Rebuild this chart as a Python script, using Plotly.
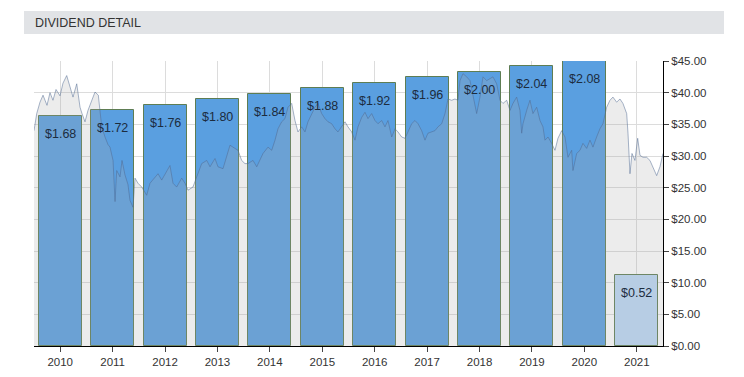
import plotly.graph_objects as go

# ---- data ----
years = [2010, 2011, 2012, 2013, 2014, 2015, 2016, 2017, 2018, 2019, 2020, 2021]
dividends = [1.68, 1.72, 1.76, 1.80, 1.84, 1.88, 1.92, 1.96, 2.00, 2.04, 2.08, 0.52]
year_labels = [str(y) for y in years]
partial_year = [False] * 11 + [True]

price_t = [
    2009.500, 2009.552, 2009.614, 2009.672, 2009.748, 2009.805, 2009.862, 2009.920, 2009.996,
    2010.053, 2010.124, 2010.149, 2010.187, 2010.244, 2010.315, 2010.378, 2010.416, 2010.473,
    2010.530, 2010.601, 2010.664, 2010.727, 2010.759, 2010.792, 2010.855, 2010.912, 2010.950,
    2011.008, 2011.046, 2011.078, 2011.141, 2011.179, 2011.236, 2011.293, 2011.331, 2011.389,
    2011.427, 2011.484, 2011.555, 2011.650, 2011.713, 2011.808, 2011.866, 2011.936,
    2012.031, 2012.094, 2012.152, 2012.222, 2012.318, 2012.381, 2012.438, 2012.533, 2012.604,
    2012.699, 2012.795, 2012.858, 2012.953,
    2013.010, 2013.106, 2013.176, 2013.239, 2013.334, 2013.392, 2013.462, 2013.525, 2013.582,
    2013.678, 2013.749, 2013.812, 2013.869, 2013.964,
    2014.035, 2014.098, 2014.155, 2014.225, 2014.288, 2014.346, 2014.416, 2014.479, 2014.536,
    2014.607, 2014.670, 2014.727, 2014.798, 2014.861, 2014.918, 2014.988,
    2015.051, 2015.109, 2015.179, 2015.242, 2015.299, 2015.370, 2015.433, 2015.490, 2015.561,
    2015.624, 2015.681, 2015.752, 2015.814, 2015.872, 2015.942,
    2016.005, 2016.062, 2016.133, 2016.196, 2016.253, 2016.324, 2016.387, 2016.444, 2016.515,
    2016.578, 2016.635, 2016.705, 2016.768, 2016.826, 2016.896, 2016.959,
    2017.016, 2017.087, 2017.150, 2017.207, 2017.278, 2017.341, 2017.398, 2017.468, 2017.531,
    2017.589, 2017.627, 2017.684, 2017.755, 2017.818, 2017.875, 2017.945,
    2018.008, 2018.066, 2018.136, 2018.199, 2018.256, 2018.327, 2018.390, 2018.447, 2018.518,
    2018.581, 2018.638, 2018.708, 2018.771, 2018.804, 2018.829, 2018.899, 2018.962,
    2019.019, 2019.090, 2019.153, 2019.210, 2019.248, 2019.306, 2019.376, 2019.439, 2019.496,
    2019.567, 2019.630, 2019.687, 2019.758, 2019.782, 2019.853, 2019.916, 2019.973,
    2020.044, 2020.107, 2020.164, 2020.234, 2020.297, 2020.355, 2020.425, 2020.488, 2020.545,
    2020.616, 2020.679, 2020.736, 2020.807, 2020.832, 2020.870, 2020.908, 2020.965,
    2021.017, 2021.061, 2021.118, 2021.188, 2021.251, 2021.308, 2021.379, 2021.442, 2021.500,
]
price = [
    34.0, 36.7, 38.5, 39.6, 38.0, 40.0, 38.8, 40.5, 39.5,
    41.5, 42.7, 42.0, 40.8, 39.3, 41.4, 37.7, 36.7, 35.4,
    37.2, 38.8, 40.1, 39.6, 37.2, 34.6, 33.0, 31.8, 31.4,
    29.3, 22.8, 27.7, 26.7, 29.3, 27.0, 25.5, 23.0, 21.9,
    26.5, 25.7, 25.1, 23.8, 25.7, 26.7, 27.2, 26.2,
    27.7, 28.5, 25.7, 25.1, 26.5, 25.7, 24.6, 25.1, 26.7,
    28.8, 29.3, 28.3, 29.6,
    28.3, 28.0, 29.8, 31.7, 31.2, 30.9, 29.3, 28.8, 28.8,
    29.3, 28.3, 29.3, 30.4, 31.4,
    30.9, 32.5, 34.3, 35.4, 35.9, 37.7, 38.3, 35.6, 33.8,
    34.6, 33.8, 35.4, 36.7, 37.7, 38.3, 36.7,
    35.9, 35.4, 35.1, 34.3, 33.8, 34.6, 35.4, 34.6, 33.8,
    32.5, 34.6, 36.1, 36.9, 35.9, 36.7,
    35.6, 35.1, 35.6, 34.6, 35.6, 33.0, 34.3, 33.8, 33.0,
    32.8, 33.8, 35.1, 35.6, 35.1, 34.0, 32.5,
    33.6, 33.8, 34.0, 34.6, 35.1, 36.7, 39.0, 38.8, 39.0,
    38.8, 41.9, 43.0, 42.5, 41.9, 39.3, 36.7,
    39.3, 42.5, 41.9, 42.2, 42.5, 41.4, 38.8, 38.3, 38.8,
    37.2, 38.3, 39.3, 37.2, 33.6, 35.1, 37.2, 38.8,
    36.7, 37.7, 35.6, 34.6, 32.5, 33.0, 32.0, 30.9, 32.8,
    34.0, 33.0, 29.8, 30.9, 27.7, 30.4, 30.9, 32.0,
    31.2, 32.5, 31.4, 33.0, 34.3, 35.1, 37.7, 38.8, 39.3,
    38.5, 39.0, 38.3, 36.7, 33.6, 27.2, 30.4, 29.3,
    32.8, 30.1, 29.8, 29.8, 29.3, 28.3, 26.9, 28.3, 30.4,
]

# ---- styles ----
FONT = "Liberation Sans, Arial, sans-serif"
BAR_FULL = "#5a9fe0"
BAR_PARTIAL = "#bcd8f5"
BAR_EDGE = "#5e7d53"
GRID = "#dcdcdc"

bar_colors = [BAR_PARTIAL if p else BAR_FULL for p in partial_year]

fig = go.Figure()
fig.add_trace(go.Bar(
    x=years, y=dividends, width=0.82,
    marker=dict(color=bar_colors, line=dict(color=BAR_EDGE, width=1)),
    xaxis="x", yaxis="y", hoverinfo="skip", showlegend=False,
))
fig.add_trace(go.Scatter(
    x=price_t, y=price, mode="lines", xaxis="x", yaxis="y2",
    line=dict(color="rgba(80,105,145,0.5)", width=1),
    fill="tozeroy", fillcolor="rgba(170,170,170,0.22)",
    showlegend=False, hoverinfo="skip",
))

annotations = [
    dict(x=yr, y=d, xref="x", yref="y", text=f"${d:.2f}", showarrow=False,
         yshift=-18, yanchor="middle",
         font=dict(family=FONT, size=12.5, color="#1c2c3e"))
    for yr, d in zip(years, dividends)
]

# page has an 8px body margin; target pixel positions are in page coordinates
OFF = 8
W, H = 744 - 2 * OFF, 377 - 2 * OFF
PL, PR, PT, PB = 34, 663, 61, 346          # plot area edges on the page
L, R, T, B = PL - OFF, W - (PR - OFF), PT - OFF, H - (PB - OFF)
pw, ph = W - L - R, H - T - B


def px_x(p):
    return (p - PL) / pw


def px_y(p):
    return (PB - p) / ph


annotations.append(dict(
    x=px_x(33), y=px_y(22.5), xref="paper", yref="paper", xanchor="left", yanchor="middle",
    text="DIVIDEND DETAIL", showarrow=False,
    font=dict(family=FONT, size=12.5, color="#333333"),
))

fig.update_layout(
    width=W, height=H,
    margin=dict(l=L, r=R, t=T, b=B, pad=0, autoexpand=False),
    paper_bgcolor="white", plot_bgcolor="white",
    font=dict(family=FONT, size=11, color="#333333"),
    bargap=0,
    showlegend=False,
    annotations=annotations,
    shapes=[dict(type="rect", xref="paper", yref="paper",
                 x0=px_x(24), x1=px_x(724), y0=px_y(34), y1=px_y(11),
                 fillcolor="#e1e3e6", line=dict(width=0), layer="below")],
    xaxis=dict(
        range=[2009.5, 2021.5], tickmode="array", tickvals=years, ticktext=year_labels,
        showgrid=True, gridcolor=GRID, gridwidth=1, zeroline=False,
        showline=True, linecolor="black", linewidth=1, automargin=False,
        ticks="outside", ticklen=5, tickcolor="#444", tickfont=dict(size=11.5, color="#333"),
        fixedrange=True,
    ),
    yaxis=dict(
        range=[0, 2.08], visible=False, showgrid=False, zeroline=False, fixedrange=True,
        automargin=False,
    ),
    yaxis2=dict(
        range=[0, 45], overlaying="y", side="right", anchor="x",
        tickmode="linear", tick0=0, dtick=5, tickprefix="$", tickformat=".2f",
        showgrid=True, gridcolor=GRID, gridwidth=1, zeroline=False,
        showline=True, linecolor="black", linewidth=1, automargin=False,
        ticks="outside", ticklen=5, tickcolor="#444", tickfont=dict(size=11.5, color="#333"),
        fixedrange=True,
    ),
)

fig.write_html("out.html")
